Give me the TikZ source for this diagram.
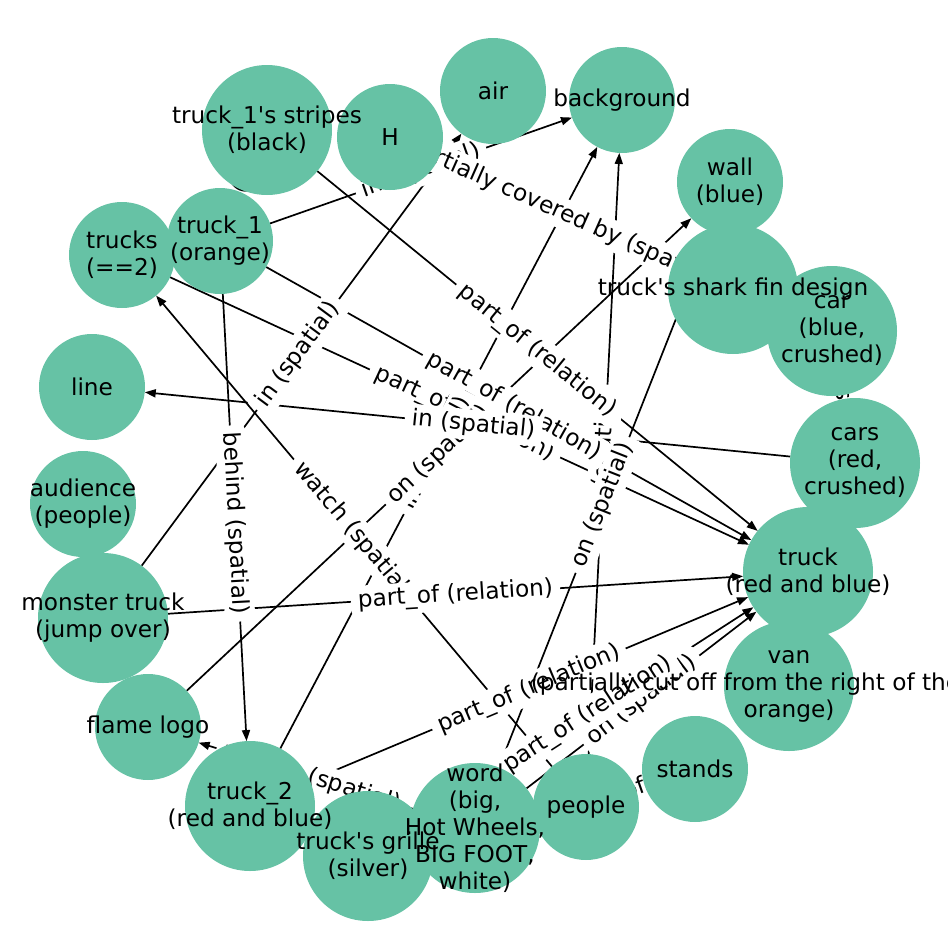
\documentclass[tikz,border=0pt]{standalone}
\usepackage{fontspec}
\usepackage{xcolor}
\usepackage{tikz}
\usetikzlibrary{arrows.meta}
\newfontfamily\dvs{DejaVu Sans}
\definecolor{setgreen}{HTML}{66C2A5}
\pgfdeclarelayer{edges}
\pgfdeclarelayer{labels}
\pgfsetlayers{edges,labels,main}
\tikzset {
  % circled vertex styles
  vertex/.style = {circle, fill=setgreen, minimum size=106pt, inner sep=0pt, outer sep=0pt},
  bigvertex/.style = {vertex, minimum size=130pt},
  % text on top of the vertices
  vtext/.style = {align=center, inner sep=0pt, font=\dvs\fontsize{23.2}{27}\selectfont},
  % relations
  rel/.style = {-{Triangle[length=11pt,width=8pt]}, line width=1.7pt},
  mid/.style = {midway, sloped, fill=white, rounded corners=5pt, inner xsep=7pt, inner ysep=4pt,
    font=\dvs\fontsize{23.2}{27}\selectfont},
}

\begin{document}
\begin{tikzpicture}[x=1pt, y=-1pt]
  \useasboundingbox (0,0) rectangle (948,948);

  \node[vertex] (air) at (493,91) {};
  \node[vertex] (bg) at (622,100) {};
  \node[bigvertex] (stripes) at (267,130) {};
  \node[vertex] (h) at (390,137) {};
  \node[vertex] (wall) at (730,182) {};
  \node[vertex] (tone) at (220,241) {};
  \node[vertex] (trucks) at (122,255) {};
  \node[bigvertex] (fin) at (733,289) {};
  \node[bigvertex] (car) at (832,331) {};
  \node[vertex] (line) at (92,387) {};
  \node[bigvertex] (cars) at (855,463) {};
  \node[vertex] (aud) at (83,504) {};
  \node[bigvertex] (truck) at (808,572) {};
  \node[bigvertex] (monster) at (103,618) {};
  \node[bigvertex] (van) at (789,686) {};
  \node[vertex] (flame) at (148,727) {};
  \node[vertex] (stands) at (695,769) {};
  \node[bigvertex] (ttwo) at (250,806) {};
  \node[vertex] (people) at (586,807) {};
  \node[bigvertex] (word) at (475,828) {};
  \node[bigvertex] (grille) at (368,856) {};

  \node[vtext] (air-t) at (air) {air};
  \node[vtext] (bg-t) at (bg) {background};
  \node[vtext] (stripes-t) at (stripes) {truck\_1's stripes\\(black)};
  \node[vtext] (h-t) at (h) {H};
  \node[vtext] (wall-t) at (wall) {wall\\(blue)};
  \node[vtext] (tone-t) at (tone) {truck\_1\\(orange)};
  \node[vtext] (trucks-t) at (trucks) {trucks\\(==2)};
  \node[vtext] (fin-t) at (fin) {truck's shark fin design};
  \node[vtext] (car-t) at (car) {car\\(blue,\\crushed)};
  \node[vtext] (line-t) at (line) {line};
  \node[vtext] (cars-t) at (cars) {cars\\(red,\\crushed)};
  \node[vtext] (aud-t) at (aud) {audience\\(people)};
  \node[vtext] (truck-t) at (truck) {truck\\(red and blue)};
  \node[vtext] (monster-t) at (monster) {monster truck\\(jump over)};
  \node[vtext] (van-t) at (van) {van\\(partially cut off from the right of the image,\\orange)};
  \node[vtext] (flame-t) at (flame) {flame logo};
  \node[vtext] (stands-t) at (stands) {stands};
  \node[vtext] (ttwo-t) at (ttwo) {truck\_2\\(red and blue)};
  \node[vtext] (people-t) at (people) {people};
  \node[vtext] (word-t) at (word) {word\\(big,\\Hot Wheels,\\BIG FOOT,\\white)};
  \node[vtext] (grille-t) at (grille) {truck's grille\\(silver)};

  \begin{pgfonlayer}{edges}
    \draw [rel] (stripes) -- (tone);
    \draw [rel] (tone) -- (bg);
    \draw [rel] (h) -- (fin);
    \draw [rel] (people) -- (bg);
    \draw [rel] (stripes) -- (truck);
    \draw [rel] (trucks) -- (truck);
    \draw [rel] (tone) -- (truck);
    \draw [rel] (ttwo) -- (bg);
    \draw [rel] (flame) -- (wall);
    \draw [rel] (monster) -- (air);
    \draw [rel] (cars) -- (line);
    \draw [rel] (word) -- (wall);
    \draw [rel] (people) -- (trucks);
    \draw [rel] (tone) -- (ttwo);
    \draw [rel] (monster) -- (truck);
    \draw [rel] (word) -- (truck);
    \draw [rel] (ttwo) -- (truck);
    \draw [rel] (grille) -- (truck);
    \draw [rel] (word) -- (flame);
    \draw [rel] (people) -- (stands);
    \draw [rel] (cars) -- (car);
  \end{pgfonlayer}

  \begin{pgfonlayer}{labels}
    \path (stripes.center) -- node[mid] {part\_of (relation)} (tone.center);
    \path (tone.center) -- node[mid] {in (spatial)} (bg.center);
    \path (h.center) -- node[mid] {partially covered by (spatial)} (fin.center);
    \path (people.center) -- node[mid] {in (spatial)} (bg.center);
    \path (stripes.center) -- node[mid] {part\_of (relation)} (truck.center);
    \path (trucks.center) -- node[mid] {part\_of (relation)} (truck.center);
    \path (tone.center) -- node[mid] {part\_of (relation)} (truck.center);
    \path (ttwo.center) -- node[mid] {in (spatial)} (bg.center);
    \path (flame.center) -- node[mid] {on (spatial)} (wall.center);
    \path (monster.center) -- node[mid] {in (spatial)} (air.center);
    \path (cars.center) -- node[mid] {in (spatial)} (line.center);
    \path (word.center) -- node[mid] {on (spatial)} (wall.center);
    \path (people.center) -- node[mid] {watch (spatial)} (trucks.center);
    \path (tone.center) -- node[mid] {behind (spatial)} (ttwo.center);
    \path (monster.center) -- node[mid] {part\_of (relation)} (truck.center);
    \path (word.center) -- node[mid] {on (spatial)} (truck.center);
    \path (ttwo.center) -- node[mid] {part\_of (relation)} (truck.center);
    \path (grille.center) -- node[mid] {part\_of (relation)} (truck.center);
    \path (word.center) -- node[mid] {next to (spatial)} (flame.center);
    \path (people.center) -- node[mid] {in front of (spatial)} (stands.center);
    \path (cars.center) -- node[mid] {near (spatial)} (car.center);
  \end{pgfonlayer}
\end{tikzpicture}
\end{document}
